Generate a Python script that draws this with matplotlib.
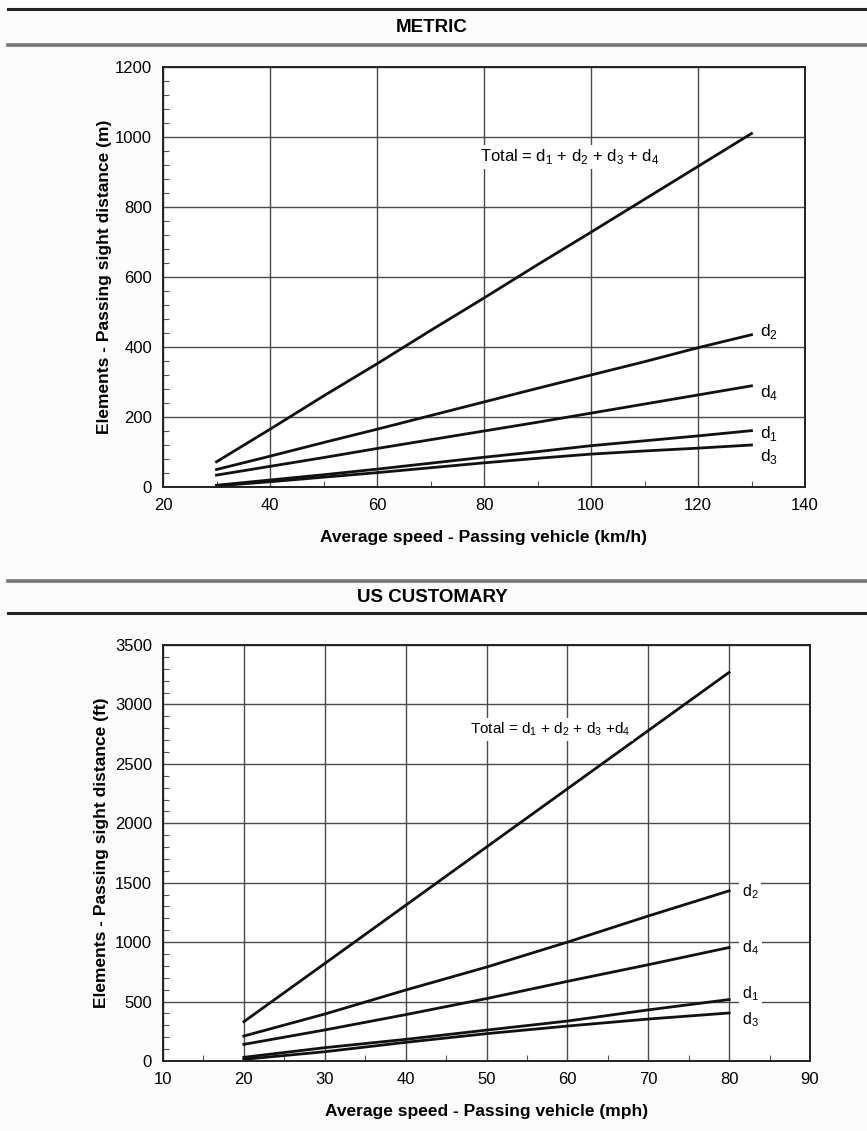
import matplotlib.pyplot as plt
from matplotlib.lines import Line2D
from matplotlib.ticker import MultipleLocator

plt.rcParams['font.family'] = ['Liberation Sans', 'DejaVu Sans']
plt.rcParams['mathtext.fontset'] = 'custom'
plt.rcParams['mathtext.rm'] = 'Liberation Sans'

# metric (km/h, m)
speed_kmh = [30, 40, 50, 60, 70, 80, 90, 100, 110, 120, 130]
total_m = [72, 165, 260, 352, 447, 540, 635, 728, 822, 916, 1010]
d1_m = [5, 20, 35, 51, 68, 85, 101, 118, 132, 146, 161]
d2_m = [50, 88, 127, 165, 204, 243, 282, 320, 358, 398, 435]
d3_m = [3, 15, 28, 41, 55, 69, 82, 94, 103, 111, 120]
d4_m = [34, 59, 84, 110, 135, 160, 185, 211, 237, 263, 289]

# US customary (mph, ft)
speed_mph = [20, 30, 40, 50, 60, 70, 80]
total_ft = [331, 820, 1310, 1800, 2290, 2780, 3270]
d1_ft = [31, 112, 182, 260, 336, 430, 517]
d2_ft = [210, 395, 597, 790, 1000, 1220, 1432]
d3_ft = [14, 78, 157, 230, 294, 353, 404]
d4_ft = [140, 261, 390, 525, 670, 810, 955]

fig = plt.figure(figsize=(8.67, 11.31), dpi=100)
fig.patch.set_facecolor('#fcfcfc')

W = 867.0
H = 1131.0

def hline(y_px, lw, color) :
    fig.add_artist(Line2D([8 / W, 1.0], [1 - y_px / H, 1 - y_px / H], lw=lw, color=color))

# header bars
hline(9, 2.2, '#222222')
hline(45, 2.6, '#777777')
hline(581, 2.6, '#777777')
hline(613, 2.2, '#222222')
fig.text(432 / W, 1 - 28 / H, 'METRIC', ha='center', va='center', fontsize=13.5, fontweight='bold')
fig.text(432 / W, 1 - 597 / H, 'US CUSTOMARY', ha='center', va='center', fontsize=13.5, fontweight='bold')


def setup_axes(ax, xlim, ylim, xmaj, xmin, ymaj, ymin, xlabel, ylabel, ypad) :
    ax.set_facecolor('white')
    ax.set_xlim(xlim)
    ax.set_ylim(ylim)
    ax.xaxis.set_major_locator(MultipleLocator(xmaj))
    ax.xaxis.set_minor_locator(MultipleLocator(xmin))
    ax.yaxis.set_major_locator(MultipleLocator(ymaj))
    ax.yaxis.set_minor_locator(MultipleLocator(ymin))
    ax.grid(True, which='major', color='#4a4a4a', lw=1.0)
    ax.set_axisbelow(True)
    ax.tick_params(which='both', direction='in', top=False, right=False, labelsize=12, pad=8)
    ax.tick_params(which='major', length=0)
    ax.tick_params(which='minor', length=4, width=0.8, color='#555555')
    for s in ax.spines.values() :
        s.set_linewidth(1.4)
        s.set_color('#222222')
    ax.set_xlabel(xlabel, fontsize=12.5, fontweight='bold', labelpad=12)
    ax.set_ylabel(ylabel, fontsize=12.5, fontweight='bold', labelpad=ypad)


label_box = dict(facecolor='white', edgecolor='none', pad=2)

# --- metric ---
ax1 = fig.add_axes([163 / W, 1 - 487 / H, 642 / W, 420 / H])
setup_axes(ax1, (20, 140), (0, 1200), 20, 10, 200, 40,
           'Average speed - Passing vehicle (km/h)', 'Elements - Passing sight distance (m)', 2)
for y in [total_m, d2_m, d4_m, d1_m, d3_m] :
    ax1.plot(speed_kmh, y, color='#111111', lw=2)
ax1.text(79.3, 943, r'Total = d$_1$ + d$_2$ + d$_3$ + d$_4$', fontsize=12, va='center', bbox=label_box)
ax1.text(131.6, 443, r'd$_2$', fontsize=12.5, va='center')
ax1.text(131.6, 271, r'd$_4$', fontsize=12.5, va='center')
ax1.text(131.6, 154, r'd$_1$', fontsize=12.5, va='center')
ax1.text(131.6, 86, r'd$_3$', fontsize=12.5, va='center')

# --- US customary ---
ax2 = fig.add_axes([163 / W, 1 - 1061 / H, 647 / W, 416 / H])
setup_axes(ax2, (10, 90), (0, 3500), 10, 5, 500, 100,
           'Average speed - Passing vehicle (mph)', 'Elements - Passing sight distance (ft)', 4)
for y in [total_ft, d2_ft, d4_ft, d1_ft, d3_ft] :
    ax2.plot(speed_mph, y, color='#111111', lw=2)
ax2.text(47.9, 2792, r'Total = d$_1$ + d$_2$ + d$_3$ +d$_4$', fontsize=11, va='center', bbox=label_box)
ax2.text(81.6, 1421, r'd$_2$', fontsize=11.5, va='center', bbox=label_box)
ax2.text(81.6, 950, r'd$_4$', fontsize=11.5, va='center', bbox=label_box)
ax2.text(81.6, 563, r'd$_1$', fontsize=11.5, va='center', bbox=label_box)
ax2.text(81.6, 345, r'd$_3$', fontsize=11.5, va='center', bbox=label_box)

plt.savefig('out.png', dpi=100, facecolor=fig.get_facecolor())
plt.close()
